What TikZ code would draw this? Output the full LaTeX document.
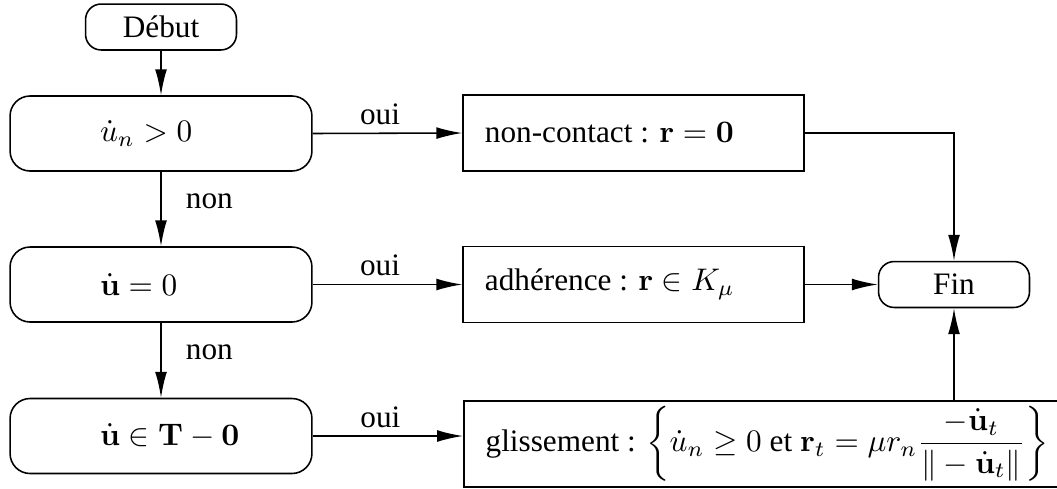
\documentclass[tikz,border=0pt]{standalone}
\usepackage[no-math]{fontspec}
\setmainfont{Liberation Serif}
\usetikzlibrary{arrows.meta}

\tikzset{every picture/.style={line width=0.5pt}}
\tikzset{
  startstop/.style={draw, rounded corners=5pt, minimum width=48.3pt, minimum height=14.7pt, inner sep=0pt},
  testbox/.style={draw, rounded corners=6.4pt, minimum width=96.6pt, minimum height=24pt, inner xsep=28.8pt, inner ysep=0pt},
  actionbox/.style={draw, minimum height=24.3pt, inner xsep=7pt, inner ysep=0pt},
  flow/.style={-{Latex[length=8.3pt,width=3.8pt]}},
  ouilabel/.style={above, pos=0.45, inner sep=2.5pt},
  nonlabel/.style={right, pos=0.4, xshift=4.4pt}
}
\newcommand{\gauche}[2]{\makebox[#1][l]{#2}}

\begin{document}
\begin{tikzpicture}[x=0.32pt,y=0.32pt,yscale=-1,xscale=1]
\useasboundingbox (0,0) rectangle (1057,488);

% Start / end
\draw (161,27) node [startstop] (debut) {Début};
\draw (954,284.5) node [startstop] (fin) {Fin};

% Tests
\draw (161,133.5) node [testbox] (t1) {\gauche{39pt}{$\dot{u}_n>0$}};
\draw (161,284.5) node [testbox] (t2) {\gauche{39pt}{$\dot{\mathbf{u}}=0$}};
\draw (161,436) node [testbox] (t3) {\gauche{39pt}{$\dot{\mathbf{u}}\in\mathbf{T}-\mathbf{0}$}};

% Actions
\draw (633.5,133) node [actionbox] (a1) {\gauche{95.1pt}{non-contact : $\mathbf{r}=\mathbf{0}$}};
\draw (633.5,284.5) node [actionbox] (a2) {\gauche{95.1pt}{adhérence : $\mathbf{r}\in K_\mu$}};
\draw (463,400) node [actionbox, anchor=north west, minimum height=27.5pt] (a3) {glissement : $\displaystyle\left\{\dot{u}_n\geq 0\mbox{ et }\mathbf{r}_t=\mu r_n\frac{-\dot{\mathbf{u}}_t}{\|-\dot{\mathbf{u}}_t\|}\right\}$};

% Connectors
\draw [flow] (debut) -- (t1);
\draw [flow] (t1) -- node [nonlabel] {non} (t2);
\draw [flow] (t2) -- node [nonlabel] {non} (t3);
\draw [flow] (t1.east) -- node [ouilabel] {oui} (a1.west);
\draw [flow] (t2.east) -- node [ouilabel] {oui} (a2.west);
\draw [flow] (t3.east) -- node [ouilabel] {oui} (t3.east -| a3.west);
\draw [flow] (a1.east) -| (fin.north);
\draw [flow] (a2.east) -- (fin.west);
\draw [flow] (a3.north -| fin.south) -- (fin.south);

\end{tikzpicture}
\end{document}
